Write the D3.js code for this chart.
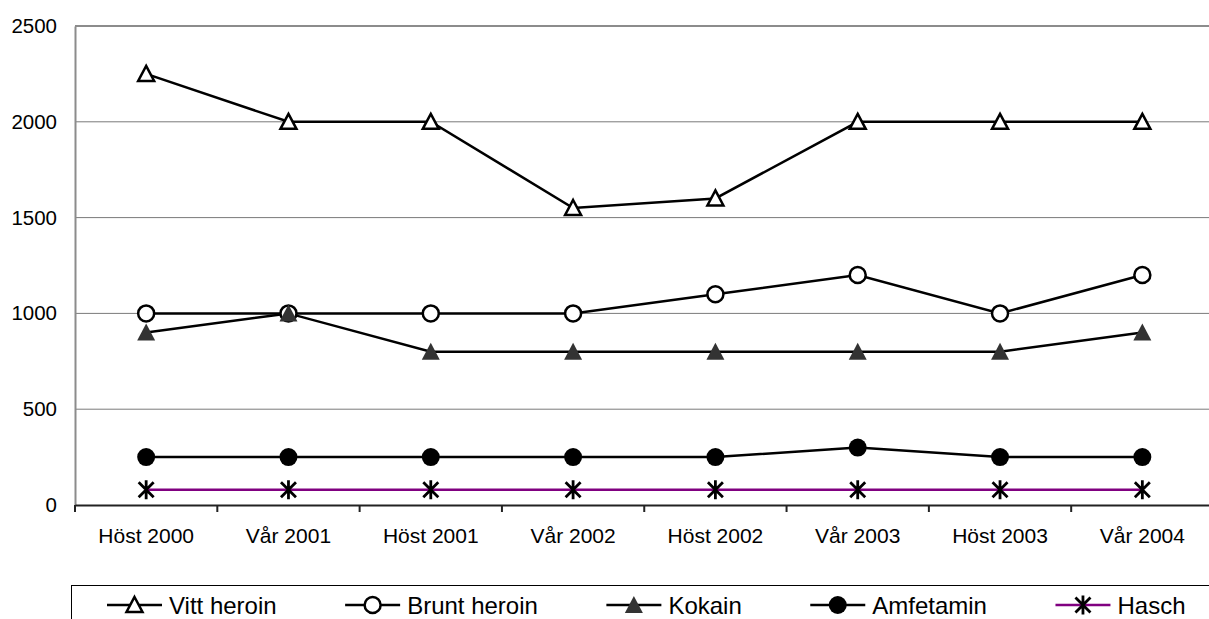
<!DOCTYPE html>
<html>
<head>
<meta charset="utf-8">
<script src="https://cdn.jsdelivr.net/npm/d3@7"></script>
<style>
	html,body{margin:0;padding:0;background:#fff;overflow:hidden;}
	svg{display:block;font-family:"Liberation Sans",Arial,Helvetica,sans-serif;}
</style>
</head>
<body>
<div id="chart"></div>
<script>
// chart values
var categories=["Höst 2000","Vår 2001","Höst 2001","Vår 2002","Höst 2002","Vår 2003","Höst 2003","Vår 2004"];
var yTicks=[0,500,1000,1500,2000,2500];
var vittHeroin=[2250,2000,2000,1550,1600,2000,2000,2000];
var bruntHeroin=[1000,1000,1000,1000,1100,1200,1000,1200];
var kokain=[900,1000,800,800,800,800,800,900];
var amfetamin=[250,250,250,250,250,300,250,250];
var hasch=[80,80,80,80,80,80,80,80];
var seriesNames=["Vitt heroin","Brunt heroin","Kokain","Amfetamin","Hasch"];

var width=1209, height=619;
var leftOffset=75, rightEdge=1213.5; // plot runs a little past the window
var topOffset=26, botOffset=505;

var series=[
	{name:seriesNames[0],vals:vittHeroin,line:"#000",marker:"triOpen"},
	{name:seriesNames[1],vals:bruntHeroin,line:"#000",marker:"circOpen"},
	{name:seriesNames[2],vals:kokain,line:"#000",marker:"triFill"},
	{name:seriesNames[3],vals:amfetamin,line:"#000",marker:"circFill"},
	{name:seriesNames[4],vals:hasch,line:"#800080",marker:"star"}
];

var svg=d3.select("#chart").append("svg").attr("width",width).attr("height",height);

var xScale=d3.scaleBand().domain(categories).range([leftOffset,rightEdge]).padding(0);
var yScale=d3.scaleLinear().domain([0,2500]).range([botOffset,topOffset]);
var xMid=function(c){return xScale(c)+xScale.bandwidth()/2;};

// gridlines (2500 one doubles as the top border)
svg.append("g").selectAll("line").data(yTicks.filter(function(d){return d>0;})).enter()
	.append("line")
	.attr("x1",leftOffset).attr("x2",rightEdge)
	.attr("y1",function(d){return yScale(d);}).attr("y2",function(d){return yScale(d);})
	.attr("stroke",function(d){return d==2500?"#8c8c8c":"#7a7a7a";})
	.attr("stroke-width",function(d){return d==2500?2:1;});

// value axis
var valAxis=svg.append("g").attr("transform","translate("+leftOffset+",0)")
	.call(d3.axisLeft(yScale).tickValues(yTicks).tickSize(0).tickPadding(18).tickFormat(d3.format("d")));
valAxis.select(".domain").attr("stroke","#8c8c8c").attr("stroke-width",2);
valAxis.selectAll("text").attr("font-size",20.5).attr("fill","#000").style("font-family","inherit");

// category axis, labels in band centres, ticks on band edges
var catAxis=svg.append("g").attr("transform","translate(0,"+botOffset+")")
	.call(d3.axisBottom(xScale).tickSize(0).tickPadding(23));
catAxis.select(".domain").attr("stroke","#222").attr("stroke-width",2);
catAxis.selectAll("text").attr("font-size",21).attr("fill","#000").style("font-family","inherit");
var edges=categories.map(function(c){return xScale(c);}).concat([rightEdge]);
catAxis.append("g").selectAll("line").data(edges).enter().append("line")
	.attr("x1",function(d){return d;}).attr("x2",function(d){return d;})
	.attr("y1",0).attr("y2",7).attr("stroke","#222").attr("stroke-width",2);

// marker drawing
var drawMarker=function(sel,type){
	if(type=="triOpen"){
		sel.append("path").attr("d","M0,-8L8,7L-8,7Z")
			.attr("fill","#fff").attr("stroke","#000").attr("stroke-width",2.5).attr("stroke-linejoin","miter");
	}else if(type=="circOpen"){
		sel.append("circle").attr("r",8).attr("fill","#fff").attr("stroke","#000").attr("stroke-width",2.5);
	}else if(type=="triFill"){
		sel.append("path").attr("d","M0,-9L9,8L-9,8Z").attr("fill","#333");
	}else if(type=="circFill"){
		sel.append("circle").attr("r",9).attr("fill","#000");
	}else if(type=="star"){
		sel.append("path").attr("d","M0,-9.5V9.5M-7.5,-7.5L7.5,7.5M7.5,-7.5L-7.5,7.5")
			.attr("stroke","#000").attr("stroke-width",2.8).attr("fill","none");
	}
};

var lineGen=d3.line().x(function(d,i){return xMid(categories[i]);}).y(function(d){return yScale(d);});

var plot=svg.append("g").attr("class","series");
series.forEach(function(s){
	plot.append("path").datum(s.vals)
		.attr("d",lineGen).attr("fill","none")
		.attr("stroke",s.line).attr("stroke-width",2.5);
});
series.forEach(function(s){
	plot.append("g").selectAll("g").data(s.vals).enter().append("g")
		.attr("transform",function(d,i){return "translate("+xMid(categories[i])+","+yScale(d)+")";})
		.each(function(){drawMarker(d3.select(this),s.marker);});
});

// legend
var legend=svg.append("g").attr("class","legend");
legend.append("rect").attr("x",71.5).attr("y",585.5).attr("width",1200).attr("height",80)
	.attr("fill","#fff").attr("stroke","#000").attr("stroke-width",1);
var lx=107, ly=605, lineLen=55;
series.forEach(function(s){
	var item=legend.append("g").attr("transform","translate("+lx+","+ly+")");
	item.append("line").attr("x1",0).attr("x2",lineLen).attr("y1",0).attr("y2",0)
		.attr("stroke",s.line).attr("stroke-width",2.5);
	drawMarker(item.append("g").attr("transform","translate("+(lineLen/2)+",0)"),s.marker);
	var t=item.append("text").attr("x",lineLen+7).attr("y",0).attr("dy","0.36em")
		.attr("font-size",24).attr("fill","#000").text(s.name);
	lx+=lineLen+7+t.node().getComputedTextLength()+68.5;
});
</script>
</body>
</html>
